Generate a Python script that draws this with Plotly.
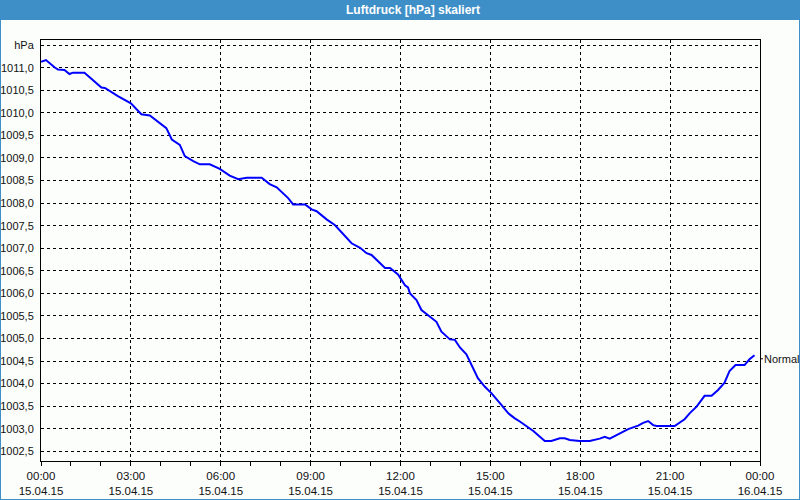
import plotly.graph_objects as go
import pandas as pd

# ---- data ----
DAY = "2015-04-15"
times = ["00:00", "00:10", "00:27", "00:34", "00:47", "00:57", "01:04", "01:27",
         "02:01", "02:08", "02:34", "03:00", "03:21", "03:38", "04:11", "04:22",
         "04:38", "04:48", "05:05", "05:18", "05:38", "05:58", "06:18", "06:35",
         "06:52", "07:22", "07:38", "07:52", "08:15", "08:25", "08:49", "09:02",
         "09:12", "09:32", "09:49", "10:12", "10:22", "10:39", "10:52", "11:02",
         "11:15", "11:29", "11:39", "11:55", "12:09", "12:15", "12:19", "12:32",
         "12:42", "12:59", "13:12", "13:22", "13:39", "13:49", "13:59", "14:12",
         "14:22", "14:35", "14:49", "15:02", "15:22", "15:36", "15:49", "15:59",
         "16:26", "16:49", "17:02", "17:19", "17:29", "17:39", "17:59", "18:19",
         "18:39", "18:49", "18:59", "19:16", "19:36", "19:56", "20:06", "20:16",
         "20:26", "20:33", "21:09", "21:29", "21:39", "21:53", "22:09", "22:23",
         "22:36", "22:49", "22:59", "23:11", "23:29", "23:39", "23:49"]
pressure = [1011.13, 1011.17, 1011.01, 1010.96, 1010.95, 1010.86, 1010.89, 1010.89,
            1010.56, 1010.55, 1010.37, 1010.21, 1009.97, 1009.94, 1009.66, 1009.41,
            1009.29, 1009.04, 1008.93, 1008.86, 1008.86, 1008.76, 1008.61, 1008.53,
            1008.56, 1008.56, 1008.42, 1008.35, 1008.11, 1007.97, 1007.97, 1007.86,
            1007.82, 1007.64, 1007.51, 1007.22, 1007.11, 1007.01, 1006.89, 1006.85,
            1006.72, 1006.56, 1006.56, 1006.42, 1006.18, 1006.13, 1006.00, 1005.85,
            1005.63, 1005.48, 1005.37, 1005.15, 1004.98, 1004.97, 1004.80, 1004.65,
            1004.41, 1004.12, 1003.93, 1003.79, 1003.53, 1003.34, 1003.23, 1003.16,
            1002.95, 1002.73, 1002.73, 1002.79, 1002.79, 1002.75, 1002.73, 1002.73,
            1002.78, 1002.82, 1002.78, 1002.88, 1002.99, 1003.07, 1003.13, 1003.17,
            1003.08, 1003.06, 1003.06, 1003.21, 1003.34, 1003.49, 1003.73, 1003.73,
            1003.86, 1004.02, 1004.28, 1004.41, 1004.41, 1004.54, 1004.63]

series_name = "Normal"
title_text = "Luftdruck [hPa] skaliert"

y_tickvals = [1002.5, 1003.0, 1003.5, 1004.0, 1004.5, 1005.0, 1005.5, 1006.0, 1006.5,
              1007.0, 1007.5, 1008.0, 1008.5, 1009.0, 1009.5, 1010.0, 1010.5, 1011.0, 1011.5]
y_ticktext = ["1002,5", "1003,0", "1003,5", "1004,0", "1004,5", "1005,0", "1005,5",
              "1006,0", "1006,5", "1007,0", "1007,5", "1008,0", "1008,5", "1009,0",
              "1009,5", "1010,0", "1010,5", "1011,0", "hPa"]
y_range = [1002.285, 1011.614]

x_tickvals = ["2015-04-15 00:00", "2015-04-15 03:00", "2015-04-15 06:00", "2015-04-15 09:00",
              "2015-04-15 12:00", "2015-04-15 15:00", "2015-04-15 18:00", "2015-04-15 21:00",
              "2015-04-16 00:00"]
x_ticktext = ["00:00<br>15.04.15", "03:00<br>15.04.15", "06:00<br>15.04.15",
              "09:00<br>15.04.15", "12:00<br>15.04.15", "15:00<br>15.04.15",
              "18:00<br>15.04.15", "21:00<br>15.04.15", "00:00<br>16.04.15"]
x_range = ["2015-04-15 00:00", "2015-04-16 00:00"]

# ---- layout constants (pixels) ----
W, H = 800, 500
L, R, T, B = 41, 40, 40, 39
PW, PH = W - L - R, H - T - B
BAR_H = 20
BLUE = "#3e8fc7"
BG = "#fcfefc"
FONT = "Liberation Sans"
TXT = "#111111"


def px(xp):
    return (xp - L) / PW


def py(yp):
    return (H - B - yp) / PH


x = pd.to_datetime([f"{DAY} {t}" for t in times])
minor_vals = pd.date_range(x_range[0], x_range[1], freq="1h")

fig = go.Figure()
fig.add_trace(go.Scatter(x=x, y=pressure, mode="lines", name=series_name,
                         line=dict(color="#0000ff", width=2), showlegend=False))

fig.update_layout(
    width=W, height=H,
    margin=dict(l=L, r=R, t=T, b=B, pad=0, autoexpand=False),
    paper_bgcolor=BG, plot_bgcolor=BG,
    font=dict(family=FONT, size=11, color=TXT),
    showlegend=False,
)

fig.update_xaxes(
    type="date", range=x_range, automargin=False,
    tickmode="array", tickvals=x_tickvals, ticktext=x_ticktext,
    showgrid=True, gridcolor="black", gridwidth=1, griddash="3px,3px",
    showline=True, linecolor="black", linewidth=1, mirror=True,
    ticks="outside", ticklen=4, tickcolor="black", tickwidth=1,
    minor=dict(tickmode="array", tickvals=list(minor_vals), ticks="outside",
               ticklen=4, tickcolor="black", showgrid=False),
    zeroline=False, tickfont=dict(family=FONT, size=11.5, color=TXT),
)
fig.update_yaxes(
    range=y_range, automargin=False,
    tickmode="array", tickvals=y_tickvals, ticktext=y_ticktext,
    showgrid=True, gridcolor="black", gridwidth=1, griddash="3px,3px",
    showline=True, linecolor="black", linewidth=1, mirror=True,
    ticks="", ticklabelstandoff=4,
    zeroline=False, tickfont=dict(family=FONT, size=11, color=TXT),
)

shapes = [
    # title bar
    dict(type="rect", xref="paper", yref="paper", x0=px(0), x1=px(W), y0=py(BAR_H), y1=py(0),
         fillcolor=BLUE, line=dict(width=0), layer="above"),
    # window border
    dict(type="line", xref="paper", yref="paper", x0=px(0.5), x1=px(0.5), y0=py(0), y1=py(H),
         line=dict(color=BLUE, width=1)),
    dict(type="line", xref="paper", yref="paper", x0=px(W - 0.5), x1=px(W - 0.5), y0=py(0), y1=py(H),
         line=dict(color=BLUE, width=1)),
    dict(type="line", xref="paper", yref="paper", x0=px(0), x1=px(W), y0=py(H - 0.5), y1=py(H - 0.5),
         line=dict(color=BLUE, width=1)),
    # little marker next to series label
    dict(type="line", xref="paper", yref="y", x0=px(L + PW), x1=px(L + PW + 3),
         y0=pressure[-1] - 0.08, y1=pressure[-1] - 0.08, line=dict(color="black", width=1)),
]
fig.update_layout(shapes=shapes)

fig.add_annotation(text=f"<b>{title_text}</b>", xref="paper", yref="paper",
                   x=px(413), y=py(BAR_H / 2), xanchor="center", yanchor="middle",
                   showarrow=False, font=dict(family=FONT, size=12, color="white"))
fig.add_annotation(text=series_name, xref="paper", yref="y",
                   x=px(L + PW + 2), y=pressure[-1] - 0.08, xanchor="left", yanchor="middle",
                   showarrow=False, font=dict(family=FONT, size=11, color=TXT))

fig.write_html("out.html")
